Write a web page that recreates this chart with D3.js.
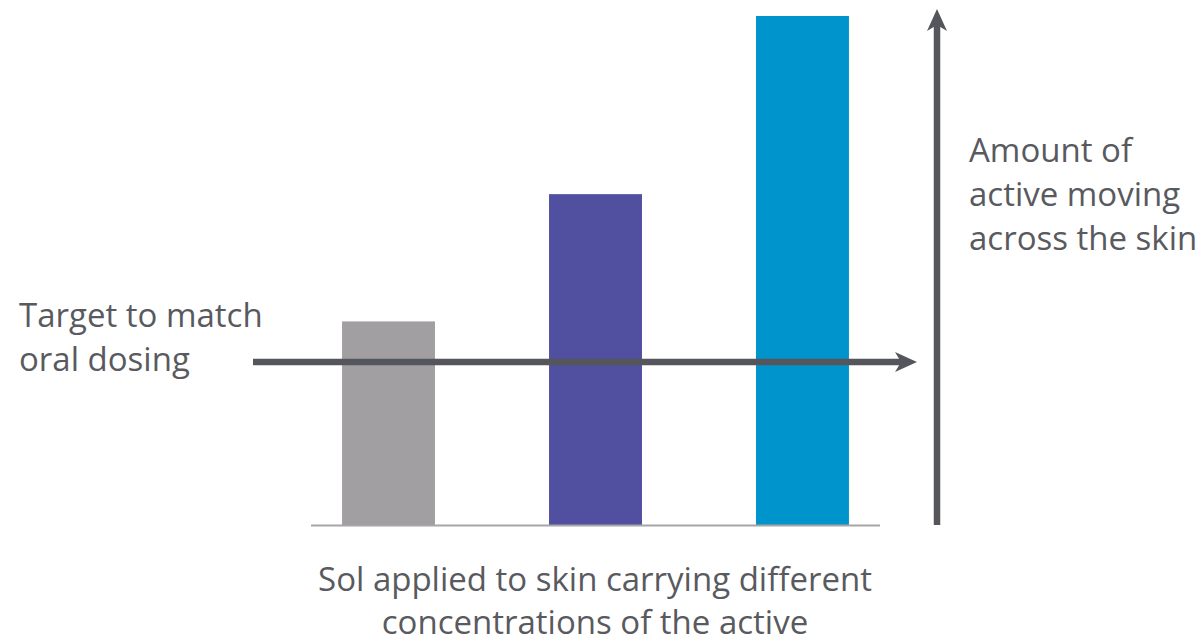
<!DOCTYPE html>
<html>
<head>
<meta charset="utf-8">
<script src="https://cdn.jsdelivr.net/npm/d3@7"></script>
<style>
  html, body { margin: 0; padding: 0; background: #ffffff; }
  svg text { font-family: "Open Sans", "Noto Sans", sans-serif; fill: #595a60; }
</style>
</head>
<body>
<svg id="chart" width="1196" height="639"></svg>
<script>
// Relative amount of active crossing the skin for three concentrations
const categories = ["Low", "Medium", "High"];
const amounts = [40, 65, 100];
const barColors = ["#a19fa2", "#5150a0", "#0094cc"];
const targetAmount = 32;

const targetLabel = ["Target to match", "oral dosing"];
const yLabel = ["Amount of", "active moving", "across the skin"];
const xLabel = ["Sol applied to skin carrying different", "concentrations of the active"];

const svg = d3.select("#chart");
const ink = "#55565c";

const x = d3.scaleBand()
  .domain(categories)
  .range([311, 880])
  .paddingInner(0.551)
  .paddingOuter(0.15);

const y = d3.scaleLinear()
  .domain([0, 100])
  .range([525, 16]);

// bars
svg.append("g")
  .selectAll("rect")
  .data(categories)
  .join("rect")
  .attr("x", d => x(d))
  .attr("width", x.bandwidth())
  .attr("y", (d, i) => y(amounts[i]))
  .attr("height", (d, i) => y(0) - y(amounts[i]))
  .attr("fill", (d, i) => barColors[i]);

// baseline
svg.append("line")
  .attr("x1", x.range()[0]).attr("x2", x.range()[1])
  .attr("y1", y(0) + 0.5).attr("y2", y(0) + 0.5)
  .attr("stroke", "#a6a6a8").attr("stroke-width", 2);

// target line with arrowhead
const ty = y(targetAmount);
const tx0 = 253, tx1 = 917;
svg.append("line")
  .attr("x1", tx0).attr("x2", tx1 - 14)
  .attr("y1", ty).attr("y2", ty)
  .attr("stroke", ink).attr("stroke-width", 6.5);
svg.append("path")
  .attr("d", `M${tx1},${ty} L${tx1 - 22},${ty - 10} L${tx1 - 16},${ty} L${tx1 - 22},${ty + 10} Z`)
  .attr("fill", ink);

// vertical "amount" arrow
const ax = 937;
const ayTop = 9;
svg.append("line")
  .attr("x1", ax).attr("x2", ax)
  .attr("y1", y(0)).attr("y2", ayTop + 14)
  .attr("stroke", ink).attr("stroke-width", 6.5);
svg.append("path")
  .attr("d", `M${ax},${ayTop} L${ax + 10},${ayTop + 22} L${ax},${ayTop + 16} L${ax - 10},${ayTop + 22} Z`)
  .attr("fill", ink);

const fs = 33;
function block(lines, xPos, yFirst, lh, anchor) {
  svg.append("g").selectAll("text")
    .data(lines)
    .join("text")
    .attr("x", xPos)
    .attr("y", (d, i) => yFirst + i * lh)
    .attr("text-anchor", anchor)
    .attr("font-size", fs)
    .text(d => d);
}

block(targetLabel, 19, 327, 44, "start");
block(yLabel, 969, 162, 44, "start");
block(xLabel, 595, 591, 43, "middle");
</script>
</body>
</html>
